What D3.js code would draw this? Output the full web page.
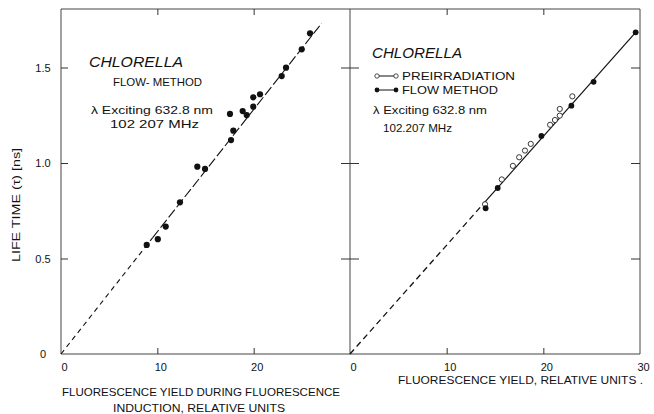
<!DOCTYPE html>
<html>
<head>
<meta charset="utf-8">
<script src="https://cdn.jsdelivr.net/npm/d3@7"></script>
<style>
  body { margin: 0; background: #fff; }
  text { font-family: "Liberation Sans", Arial, sans-serif; fill: #111; }
  .domain { display: none; }
</style>
</head>
<body>
<div id="plot-container"></div>
<script>
// ---- data ----
var leftX = [8.9, 10.05, 10.87, 12.35, 14.15, 14.95, 17.65, 17.89, 17.54, 18.86, 19.28, 19.96, 19.96, 20.66, 22.91, 23.36, 24.99, 25.85]
var leftY = [0.571, 0.601, 0.667, 0.794, 0.981, 0.969, 1.120, 1.169, 1.257, 1.272, 1.251, 1.295, 1.344, 1.360, 1.455, 1.499, 1.595, 1.679]
var leftFit = [0, 27.06]          // x range of the fitted line
var leftSlope = 0.0640

var preX = [13.97, 15.7, 16.85, 17.5, 18.1, 18.7, 20.7, 21.2, 21.7, 21.7, 23.0]
var preY = [0.784, 0.914, 0.985, 1.03, 1.065, 1.10, 1.20, 1.225, 1.248, 1.283, 1.349]
var flowX = [14.03, 15.28, 19.8, 22.9, 25.2, 29.55]
var flowY = [0.763, 0.869, 1.142, 1.300, 1.425, 1.684]
var rightSlope = 0.0570

var yTicks = [0, 0.5, 1.0, 1.5]
var yTickLabels = ["0", "0.5", "1.0", "1.5"]
var leftXTicks = [0, 10, 20]
var rightXTicks = [0, 10, 20, 30]

// ---- layout ----
var W = 654, H = 414
var yTop = 9, yBot = 354
var leftL = 61, mid = 350, rightR = 640

var svg = d3.select('#plot-container').append('svg')
  .attr('width', W).attr('height', H)

var y = d3.scaleLinear().domain([0, 1.8]).range([yBot, 10.2])
var xL = d3.scaleLinear().domain([0, 30]).range([leftL, mid])
var xR = d3.scaleLinear().domain([0, 30]).range([mid, rightR])

var frame = svg.append('g').attr('stroke', '#444').attr('stroke-width', 1).attr('fill', 'none')
frame.append('path').attr('d', 'M' + leftL + ',' + yTop + 'H' + rightR + 'V' + yBot + 'H' + leftL + 'Z')
frame.append('line').attr('x1', mid).attr('x2', mid).attr('y1', yTop).attr('y2', yBot)

// y ticks: left panel inward, shared spine crossing, right spine inward
svg.append('g').attr('transform', 'translate(' + leftL + ',0)')
  .call(d3.axisRight(y).tickValues(yTicks.slice(1)).tickSize(7).tickFormat(''))
svg.append('g').attr('transform', 'translate(' + (mid - 9) + ',0)')
  .call(d3.axisRight(y).tickValues(yTicks.slice(1)).tickSize(18).tickFormat(''))
svg.append('g').attr('transform', 'translate(' + rightR + ',0)')
  .call(d3.axisLeft(y).tickValues(yTicks.slice(1)).tickSize(9).tickFormat(''))

// y tick labels
svg.append('g').attr('transform', 'translate(' + leftL + ',0)')
  .call(d3.axisLeft(y).tickValues(yTicks).tickSize(0).tickPadding(18)
    .tickFormat(function (d, i) { return yTickLabels[i] }))
  .selectAll('text').attr('text-anchor', 'middle').attr('font-size', 11)
  .attr('font-family', '"Liberation Sans", Arial, sans-serif').attr('fill', '#111')

// x ticks (inward, top and bottom)
;[xL, xR].forEach(function (x) {
  svg.append('g').attr('transform', 'translate(0,' + yBot + ')')
    .call(d3.axisTop(x).tickValues([10, 20]).tickSize(6).tickFormat(''))
  svg.append('g').attr('transform', 'translate(0,' + yTop + ')')
    .call(d3.axisBottom(x).tickValues([10, 20]).tickSize(6).tickFormat(''))
})
svg.selectAll('.tick line').attr('stroke', '#333')

// x tick labels
function xLabels (x, vals) {
  svg.append('g').attr('transform', 'translate(3,' + yBot + ')')
    .call(d3.axisBottom(x).tickValues(vals).tickSize(0).tickPadding(9).tickFormat(d3.format('d')))
    .selectAll('text').attr('font-size', 11)
    .attr('font-family', '"Liberation Sans", Arial, sans-serif').attr('fill', '#111')
}
xLabels(xL, leftXTicks)
xLabels(xR, rightXTicks)

// ---- left panel ----
var gl = svg.append('g')
gl.append('line').attr('x1', xL(0)).attr('y1', y(0))
  .attr('x2', xL(9.5)).attr('y2', y(9.5 * leftSlope))
  .attr('stroke', '#111').attr('stroke-width', 1.1).attr('stroke-dasharray', '5,4')
gl.append('line').attr('x1', xL(9.5)).attr('y1', y(9.5 * leftSlope))
  .attr('x2', xL(leftFit[1])).attr('y2', y(leftFit[1] * leftSlope))
  .attr('stroke', '#111').attr('stroke-width', 1.1).attr('stroke-dasharray', '10,3')
gl.selectAll('circle').data(leftX).enter().append('circle')
  .attr('cx', function (d) { return xL(d) })
  .attr('cy', function (d, i) { return y(leftY[i]) })
  .attr('r', 3.1).attr('fill', '#111')

// ---- right panel ----
var gr = svg.append('g')
gr.append('line').attr('x1', xR(0)).attr('y1', y(0))
  .attr('x2', xR(13.9)).attr('y2', y(13.9 * rightSlope))
  .attr('stroke', '#111').attr('stroke-width', 1.3).attr('stroke-dasharray', '6,4')
gr.append('line').attr('x1', xR(13.9)).attr('y1', y(13.9 * rightSlope))
  .attr('x2', xR(29.55)).attr('y2', y(29.55 * rightSlope))
  .attr('stroke', '#111').attr('stroke-width', 1.2)
gr.selectAll('circle.pre').data(preX).enter().append('circle').attr('class', 'pre')
  .attr('cx', function (d) { return xR(d) })
  .attr('cy', function (d, i) { return y(preY[i]) })
  .attr('r', 2.6).attr('fill', '#fff').attr('stroke', '#222').attr('stroke-width', 0.9)
gr.selectAll('circle.flow').data(flowX).enter().append('circle').attr('class', 'flow')
  .attr('cx', function (d) { return xR(d) })
  .attr('cy', function (d, i) { return y(flowY[i]) })
  .attr('r', 2.9).attr('fill', '#111')

// legend
var lg = svg.append('g')
lg.append('line').attr('x1', 377).attr('x2', 396).attr('y1', 76).attr('y2', 76).attr('stroke', '#111')
lg.append('circle').attr('cx', 377).attr('cy', 76).attr('r', 2.2).attr('fill', '#fff').attr('stroke', '#222').attr('stroke-width', 0.8)
lg.append('circle').attr('cx', 396).attr('cy', 76).attr('r', 2.2).attr('fill', '#fff').attr('stroke', '#222').attr('stroke-width', 0.8)
lg.append('line').attr('x1', 377).attr('x2', 396).attr('y1', 90).attr('y2', 90).attr('stroke', '#111')
lg.append('circle').attr('cx', 377).attr('cy', 90).attr('r', 2.4).attr('fill', '#111')
lg.append('circle').attr('cx', 396).attr('cy', 90).attr('r', 2.4).attr('fill', '#111')

// ---- texts ----
function label (txt, x, yb, len, size, opts) {
  opts = opts || {}
  var t = svg.append('text').attr('x', x).attr('y', yb).attr('font-size', size)
    .attr('textLength', len).attr('lengthAdjust', 'spacingAndGlyphs').text(txt)
  if (opts.italic) t.attr('font-style', 'italic')
  if (opts.rotate) t.attr('transform', 'rotate(-90,' + x + ',' + yb + ')')
  return t
}
label('CHLORELLA', 89, 67, 94, 14, { italic: true })
label('FLOW- METHOD', 113, 85.5, 89, 10.5)
label('λ Exciting  632.8 nm', 91, 113.5, 122, 11)
label('102  207  MHz', 110, 127.5, 89, 10.5)

label('CHLORELLA', 372, 57.5, 90, 14, { italic: true })
label('PREIRRADIATION', 402, 80, 113, 10.5)
label('FLOW METHOD', 402, 93.5, 96, 10.5)
label('λ Exciting  632.8 nm', 373, 113.5, 114, 11)
label('102.207  MHz', 383, 132, 69, 10.5)

label('FLUORESCENCE  YIELD DURING FLUORESCENCE', 62, 396, 278, 10.5)
label('INDUCTION,  RELATIVE UNITS', 113, 412, 172, 10.5)
label('FLUORESCENCE  YIELD,  RELATIVE UNITS .', 398, 384, 245, 10)

label('LIFE  TIME (τ)  [ns]', 20, 262, 114, 10.5, { rotate: true })
</script>
</body>
</html>
